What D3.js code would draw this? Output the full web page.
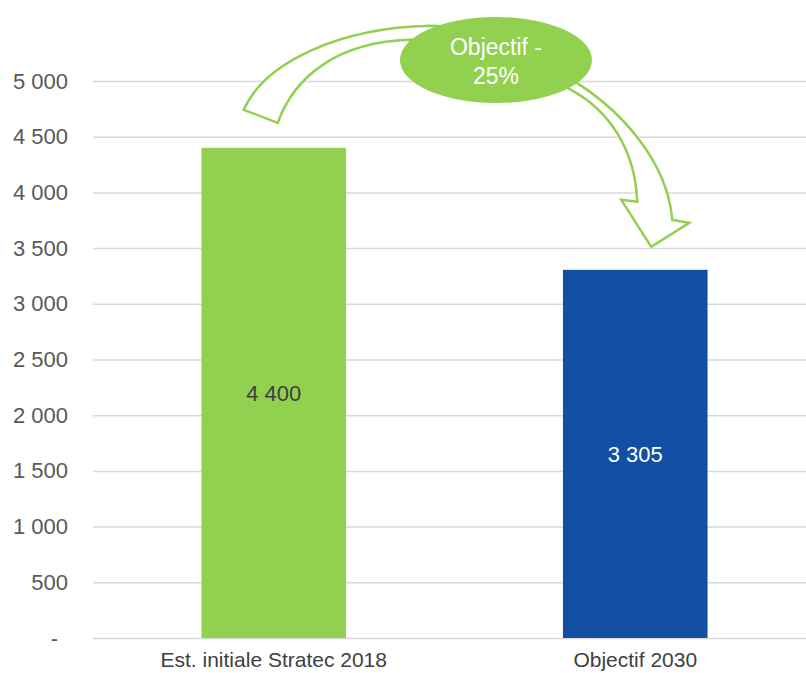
<!DOCTYPE html>
<meta charset="utf-8">
<script src="https://d3js.org/d3.v7.min.js"></script>
<style>
  body { margin: 0; background: #fff; }
  text { font-family: "Liberation Sans", Arial, sans-serif; }
</style>
<svg id="chart" width="806" height="673"></svg>
<script>
  // data
  var categories = ["Est. initiale Stratec 2018", "Objectif 2030"];
  var values = [4400, 3305];
  var barColors = ["#92d050", "#134fa2"];
  var labelColors = ["#404040", "#ffffff"];
  var yTicks = [0, 500, 1000, 1500, 2000, 2500, 3000, 3500, 4000, 4500, 5000];
  var bubbleLines = ["Objectif -", "25%"];

  var svg = d3.select("#chart");

  var x = d3.scaleBand()
    .domain(categories)
    .range([93, 816])
    .paddingInner(0.6)
    .paddingOuter(0.3);

  var y = d3.scaleLinear()
    .domain([0, 5000])
    .range([638, 81]);

  var fr = d3.formatLocale({ thousands: " ", grouping: [3], decimal: ",", currency: ["", ""] });
  var fmt = fr.format(",");

  // gridlines + y labels
  var yAxis = svg.append("g")
    .attr("transform", "translate(93,0)")
    .call(d3.axisLeft(y).tickValues(yTicks).tickSize(-713).tickPadding(25)
      .tickFormat(function(d) { return d === 0 ? "-" : fmt(d); }));
  yAxis.select(".domain").remove();
  yAxis.selectAll(".tick line").attr("stroke", "#d9d9d9").attr("stroke-width", 1.5);
  yAxis.selectAll(".tick text")
    .attr("fill", "#595959")
    .style("font-size", "22px")
    .attr("dx", function(d) { return d === 0 ? -10 : 0; });

  // bars
  svg.append("g").selectAll("rect")
    .data(values)
    .enter().append("rect")
      .attr("x", function(d, i) { return x(categories[i]); })
      .attr("y", function(d) { return y(d); })
      .attr("width", x.bandwidth())
      .attr("height", function(d) { return y(0) - y(d); })
      .attr("fill", function(d, i) { return barColors[i]; });

  // value labels
  svg.append("g").selectAll("text")
    .data(values)
    .enter().append("text")
      .attr("x", function(d, i) { return x(categories[i]) + x.bandwidth() / 2; })
      .attr("y", function(d) { return (y(d) + y(0)) / 2 + 8; })
      .attr("text-anchor", "middle")
      .style("font-size", "22px")
      .attr("fill", function(d, i) { return labelColors[i]; })
      .text(function(d) { return fmt(d); });

  // category labels
  svg.append("g").selectAll("text")
    .data(categories)
    .enter().append("text")
      .attr("x", function(d) { return x(d) + x.bandwidth() / 2; })
      .attr("y", 667)
      .attr("text-anchor", "middle")
      .style("font-size", "21px")
      .attr("fill", "#404040")
      .text(function(d) { return d; });

  // curved arrow from first bar to second, positioned off the bar tops
  var ax = x(categories[0]) + x.bandwidth() / 2, ay = y(values[0]);
  var bx = x(categories[1]) + x.bandwidth() / 2, by = y(values[1]);
  function p(cx, cy, dx, dy) { return (cx + dx) + "," + (cy + dy); }
  var arrow = [
    "M", p(ax, ay, -30, -38),
    "C", p(ax, ay, -9, -86), p(ax, ay, 66, -120), p(ax, ay, 156, -122),
    "C", p(ax, ay, 196, -122), p(ax, ay, 266, -98), p(ax, ay, 303, -65),
    "C", p(bx, by, -16, -160), p(bx, by, 32, -110), p(bx, by, 37, -50),
    "L", p(bx, by, 54, -47),
    "L", p(bx, by, 16, -23),
    "L", p(bx, by, -14, -70),
    "L", p(bx, by, 2, -68),
    "C", p(bx, by, 0, -120), p(bx, by, -26, -160), p(bx, by, -66, -181),
    "C", p(ax, ay, 256, -88), p(ax, ay, 186, -108), p(ax, ay, 136, -108),
    "C", p(ax, ay, 66, -106), p(ax, ay, 21, -73), p(ax, ay, 4, -25),
    "Z"
  ].join(" ");
  svg.append("path")
    .attr("d", arrow)
    .attr("fill", "#fff")
    .attr("stroke", "#92d050")
    .attr("stroke-width", 2.5)
    .attr("stroke-linejoin", "miter");

  // bubble
  var ex = 496, ey = 60;
  svg.append("ellipse")
    .attr("cx", ex).attr("cy", ey)
    .attr("rx", 96).attr("ry", 43)
    .attr("fill", "#92d050");
  svg.append("g").selectAll("text")
    .data(bubbleLines)
    .enter().append("text")
      .attr("x", ex)
      .attr("y", function(d, i) { return ey - 5 + i * 29; })
      .attr("text-anchor", "middle")
      .style("font-size", "23px")
      .attr("fill", "#fff")
      .text(function(d) { return d; });
</script>
